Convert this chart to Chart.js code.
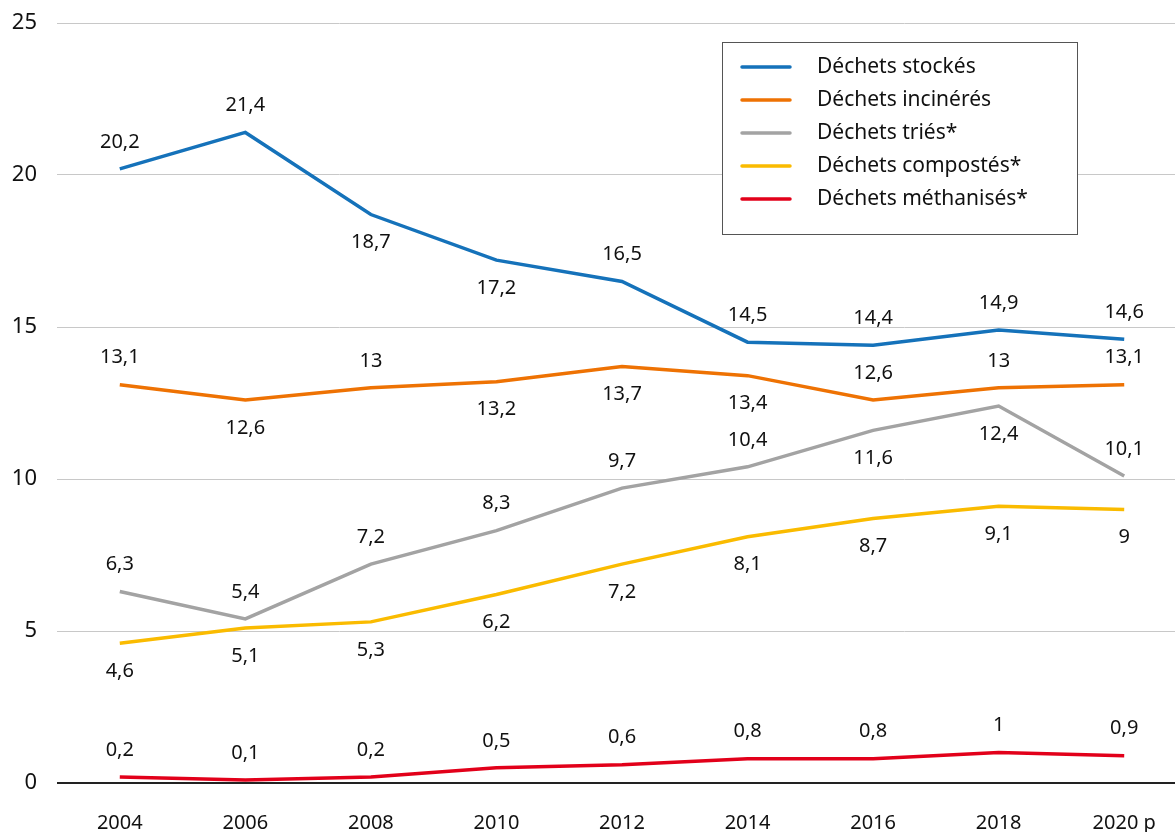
<!DOCTYPE html>
<html lang="fr">
<head>
<meta charset="utf-8">
<title>Déchets</title>
<script src="https://cdn.jsdelivr.net/npm/chart.js@4/dist/chart.umd.min.js"></script>
<style>
    html, body { margin: 0; padding: 0; background: #fff; overflow: hidden; }
    #wrap { width: 1187px; height: 832px; }
</style>
</head>
<body>
<div id="wrap"><canvas id="wasteChart" width="1187" height="832"></canvas></div>
<script>
// Années
const years = ['2004', '2006', '2008', '2010', '2012', '2014', '2016', '2018', '2020 p'];

// Séries (millions de tonnes)
const stockes = [20.2, 21.4, 18.7, 17.2, 16.5, 14.5, 14.4, 14.9, 14.6];
const incineres = [13.1, 12.6, 13, 13.2, 13.7, 13.4, 12.6, 13, 13.1];
const tries = [6.3, 5.4, 7.2, 8.3, 9.7, 10.4, 11.6, 12.4, 10.1];
const compostes = [4.6, 5.1, 5.3, 6.2, 7.2, 8.1, 8.7, 9.1, 9];
const methanises = [0.2, 0.1, 0.2, 0.5, 0.6, 0.8, 0.8, 1, 0.9];

const yTicks = [0, 5, 10, 15, 20, 25];

// Position des étiquettes : 'a' = au-dessus, 'b' = en dessous
const placeStockes = ['a', 'a', 'b', 'b', 'a', 'a', 'a', 'a', 'a'];
const placeIncineres = ['a', 'b', 'a', 'b', 'b', 'b', 'a', 'a', 'a'];
const placeTries = ['a', 'a', 'a', 'a', 'a', 'a', 'b', 'b', 'a'];
const placeCompostes = ['b', 'b', 'b', 'b', 'b', 'b', 'b', 'b', 'b'];
const placeMethanises = ['a', 'a', 'a', 'a', 'a', 'a', 'a', 'a', 'a'];

const FONT = '"Noto Sans", "Open Sans", sans-serif';

const fmt = (v) => String(v).replace('.', ',');

// Étiquettes de valeurs au-dessus / en dessous de chaque point
const valueLabels = {
    id: 'valueLabels',
    afterDatasetsDraw(chart) {
        const ctx = chart.ctx;
        ctx.save();
        ctx.font = '20px ' + FONT;
        ctx.fillStyle = '#111';
        ctx.textAlign = 'center';
        ctx.textBaseline = 'middle';
        chart.data.datasets.forEach((ds, i) => {
            const meta = chart.getDatasetMeta(i);
            meta.data.forEach((pt, j) => {
                const off = ds.labelPlace[j] === 'b' ? 28 : -27;
                ctx.fillText(fmt(ds.data[j]), pt.x, pt.y + off);
            });
        });
        ctx.restore();
    }
};

// Légende encadrée dans la zone du graphique
const boxLegend = {
    id: 'boxLegend',
    afterDraw(chart) {
        const ctx = chart.ctx;
        const area = chart.chartArea;
        const x0 = area.right - 465, y0 = area.top + 19;
        const w = 355, h = 192;
        ctx.save();
        ctx.fillStyle = '#fff';
        ctx.fillRect(x0, y0, w, h);
        ctx.strokeStyle = '#555';
        ctx.lineWidth = 1;
        ctx.strokeRect(x0 + 0.5, y0 + 0.5, w, h);
        ctx.font = '21px ' + FONT;
        ctx.textBaseline = 'middle';
        ctx.textAlign = 'left';
        chart.data.datasets.forEach((ds, i) => {
            const y = y0 + 25 + i * 33;
            ctx.strokeStyle = ds.borderColor;
            ctx.lineWidth = 3.5;
            ctx.lineCap = 'round';
            ctx.beginPath();
            ctx.moveTo(x0 + 20, y);
            ctx.lineTo(x0 + 68, y);
            ctx.stroke();
            ctx.fillStyle = '#111';
            ctx.fillText(ds.label, x0 + 95, y);
        });
        ctx.restore();
    }
};

const mkSet = (label, data, color, place) => ({
    label: label,
    data: data,
    labelPlace: place,
    borderColor: color,
    backgroundColor: color,
    borderWidth: 3.5,
    pointRadius: 0,
    tension: 0,
    fill: false
});

new Chart(document.getElementById('wasteChart'), {
    type: 'line',
    data: {
        labels: years,
        datasets: [
            mkSet('Déchets stockés', stockes, '#1572BA', placeStockes),
            mkSet('Déchets incinérés', incineres, '#EE7203', placeIncineres),
            mkSet('Déchets triés*', tries, '#A3A3A3', placeTries),
            mkSet('Déchets compostés*', compostes, '#FABB00', placeCompostes),
            mkSet('Déchets méthanisés*', methanises, '#E2001A', placeMethanises)
        ]
    },
    options: {
        responsive: false,
        animation: false,
        layout: { padding: { top: 23, right: 0, bottom: 0, left: 0 } },
        plugins: {
            legend: { display: false },
            tooltip: { enabled: false }
        },
        scales: {
            x: {
                offset: true,
                grid: { display: false, drawTicks: false },
                border: { display: false },
                ticks: {
                    padding: 28,
                    color: '#111',
                    font: { family: FONT, size: 20 },
                    maxRotation: 0,
                    autoSkip: false
                },
                afterFit: (s) => { s.height = 49; }
            },
            y: {
                min: 0,
                max: 25,
                afterBuildTicks: (s) => { s.ticks = yTicks.map(v => ({ value: v })); },
                grid: {
                    drawTicks: false,
                    color: (c) => c.tick && c.tick.value === 0 ? '#222' : '#c8c8c8',
                    lineWidth: (c) => c.tick && c.tick.value === 0 ? 2 : 1
                },
                border: { display: false },
                ticks: {
                    padding: 20,
                    color: '#111',
                    font: { family: FONT, size: 22 }
                },
                afterFit: (s) => {
                    s.width = 57;
                    s.paddingTop = 0;
                    s.paddingBottom = 0;
                }
            }
        }
    },
    plugins: [valueLabels, boxLegend]
});
</script>
</body>
</html>
